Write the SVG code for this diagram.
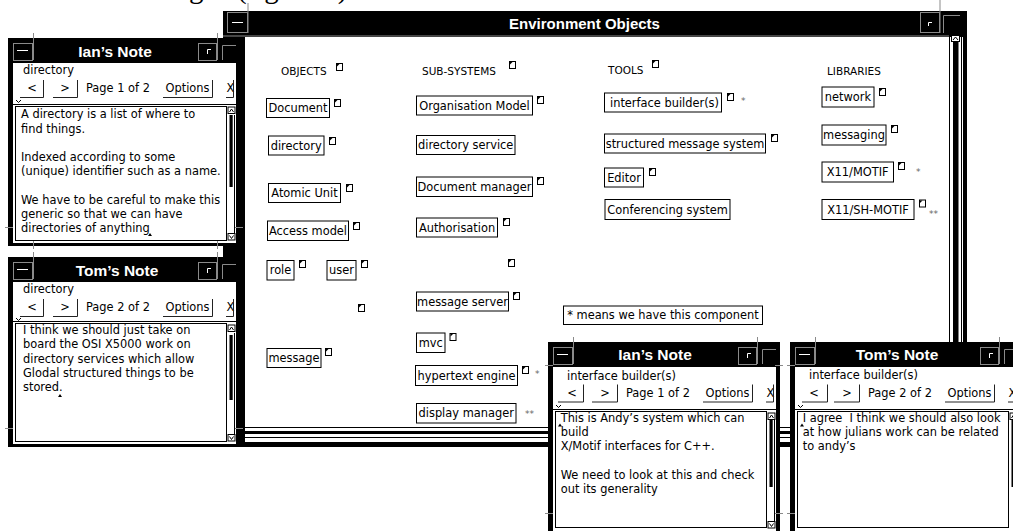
<svg xmlns="http://www.w3.org/2000/svg" xmlns:xlink="http://www.w3.org/1999/xlink" width="1013" height="531" viewBox="0 0 1013 531">
<style>
.fr{fill:#000}
.wh{fill:#fff}
.tt{font-family:"Liberation Sans",Arial,sans-serif;font-weight:bold;font-size:15.5px;fill:#fff;text-anchor:middle}
.t{font-family:"DejaVu Sans",sans-serif;font-size:11.4px;fill:#000}
.tc{font-family:"DejaVu Sans",sans-serif;font-size:11.4px;fill:#000;text-anchor:middle}
.h{font-family:"DejaVu Sans",sans-serif;font-size:10.5px;fill:#000}
.bx{fill:#fff;stroke:#000;stroke-width:1}
.g{stroke:#8a8a8a;fill:none;stroke-width:1}
.gw{stroke:#fff;fill:none;stroke-width:1}
.ln{stroke:#000;fill:none;stroke-width:1}
.bl{stroke:#222;fill:none;stroke-width:1}
.st{font-family:"DejaVu Sans",sans-serif;font-size:9px;fill:#666}
.cap{font-family:"Liberation Serif","Times New Roman",serif;font-size:29px;fill:#000}
</style>
<defs>
<symbol id="ic" overflow="visible">
<rect x="0.5" y="0.5" width="6" height="7" fill="#fff" stroke="#000"/>
<path d="M1,1 H3.5 L1,3.5 Z" fill="#000"/>
</symbol>
<symbol id="car" overflow="visible">
<path d="M0,3 L2,0 L4,3 Z" fill="#000"/>
</symbol>
</defs>
<rect width="1013" height="531" fill="#fff"/>
<text class="cap" y="-2.5"><tspan x="189">g</tspan><tspan x="237">(figure 3)</tspan></text>

<g id="env-window">
<rect class="fr" x="223" y="11" width="744" height="436"/>
<rect class="wh" x="245" y="37" width="704" height="389"/>
<line class="g" x1="223" y1="36" x2="949" y2="36"/>
<rect class="g" x="227.5" y="12.5" width="20" height="20"/>
<line class="g" x1="248" y1="3" x2="248" y2="33"/>
<line class="gw" x1="232" y1="22.5" x2="243" y2="22.5"/>
<text class="tt" x="584.5" y="28.5" style="font-size:15px">Environment Objects</text>
<rect class="g" x="920.5" y="12.5" width="19" height="20"/>
<line class="g" x1="940" y1="0" x2="940" y2="33"/>
<path class="gw" d="M928.5,26 V22.5 H932"/>
<path class="g" d="M943.5,33 V15.5 H960"/>
<rect class="wh" x="949" y="37" width="14" height="389"/>
<line class="ln" x1="949.5" y1="37" x2="949.5" y2="426"/>
<rect class="fr" x="953" y="42" width="5.5" height="384"/>
<line class="ln" x1="961.5" y1="37" x2="961.5" y2="426"/>
<rect class="bx" x="951.5" y="35.5" width="8" height="6"/>
<path class="ln" d="M953,40 L955.5,37 L958,40"/>
<rect class="wh" x="245" y="426" width="718" height="16"/>
<line class="ln" x1="245" y1="427.5" x2="963" y2="427.5"/>
<rect class="fr" x="245" y="431" width="718" height="3"/>
<line class="ln" x1="245" y1="437.5" x2="963" y2="437.5"/>
<rect class="fr" x="240" y="37" width="5" height="410"/>
<text class="h" x="281" y="75">OBJECTS</text>
<use href="#ic" x="336" y="63"/>
<text class="h" x="422" y="75">SUB-SYSTEMS</text>
<use href="#ic" x="509" y="61"/>
<text class="h" x="608" y="74">TOOLS</text>
<use href="#ic" x="652" y="60"/>
<text class="h" x="827" y="75">LIBRARIES</text>
</g>

<g id="connectors"></g>

<g id="obj-document"><rect class="bx" x="266.5" y="98.5" width="63" height="19"/><text class="tc" x="298" y="112">Document</text><use href="#ic" x="334" y="99"/></g>
<g id="obj-directory"><rect class="bx" x="268.5" y="136" width="55.5" height="19"/><text class="tc" x="296.2" y="149.5">directory</text><use href="#ic" x="329" y="137"/></g>
<g id="obj-atomic-unit"><rect class="bx" x="268.5" y="183.5" width="72" height="19"/><text class="tc" x="304.5" y="197">Atomic Unit</text><use href="#ic" x="346" y="184"/></g>
<g id="obj-access-model"><rect class="bx" x="267.5" y="221" width="81" height="19.5"/><text class="tc" x="308" y="234.5">Access model</text><use href="#ic" x="353" y="222"/></g>
<g id="obj-role"><rect class="bx" x="267" y="260.5" width="27" height="19.5"/><text class="tc" x="280.5" y="274">role</text><use href="#ic" x="299" y="260"/></g>
<g id="obj-user"><rect class="bx" x="327" y="260.5" width="29" height="19.5"/><text class="tc" x="341.5" y="274">user</text><use href="#ic" x="361" y="260"/></g>
<g id="obj-blank"><use href="#ic" x="358" y="304"/></g>
<g id="obj-message"><rect class="bx" x="267" y="348.5" width="54" height="19"/><text class="tc" x="294" y="362">message</text><use href="#ic" x="325" y="348"/></g>

<g id="sub-organisation-model"><rect class="bx" x="416.5" y="96" width="116" height="19"/><text class="tc" x="474.5" y="109.5">Organisation Model</text><use href="#ic" x="537" y="96"/></g>
<g id="sub-directory-service"><rect class="bx" x="416.5" y="135.5" width="98.5" height="19"/><text class="tc" x="465.7" y="149">directory service</text></g>
<g id="sub-document-manager"><rect class="bx" x="416.5" y="177" width="116" height="19.5"/><text class="tc" x="474.5" y="190.5">Document manager</text><use href="#ic" x="537" y="177"/></g>
<g id="sub-authorisation"><rect class="bx" x="416.5" y="218" width="81" height="19"/><text class="tc" x="457" y="231.5">Authorisation</text><use href="#ic" x="503" y="218"/></g>
<g id="sub-blank"><use href="#ic" x="508" y="259"/></g>
<g id="sub-message-server"><rect class="bx" x="416.5" y="292" width="92" height="19"/><text class="tc" x="462.5" y="305.5">message server</text><use href="#ic" x="513" y="292"/></g>
<g id="sub-mvc"><rect class="bx" x="416.5" y="333" width="28.5" height="19.5"/><text class="tc" x="430.7" y="346.5">mvc</text><use href="#ic" x="449.5" y="333"/></g>
<g id="sub-hypertext-engine"><rect class="bx" x="415.5" y="365.5" width="102" height="20"/><text class="tc" x="466.5" y="379.5">hypertext engine</text><use href="#ic" x="522" y="366"/><text class="st" x="535" y="377">*</text></g>
<g id="sub-display-manager"><rect class="bx" x="416.5" y="403.5" width="99.5" height="19.5"/><text class="tc" x="466.2" y="417">display manager</text><text class="st" x="525" y="417">**</text></g>

<g id="tool-interface-builder"><rect class="bx" x="604.5" y="93" width="117" height="19"/><text class="tc" x="664.5" y="106.5">interface builder(s)</text><use href="#ic" x="727" y="93"/><text class="st" x="741" y="104">*</text></g>
<g id="tool-structured-message-system"><rect class="bx" x="604.5" y="134" width="161" height="19"/><text class="tc" x="685" y="147.5">structured message system</text><use href="#ic" x="771" y="134"/></g>
<g id="tool-editor"><rect class="bx" x="604.5" y="168" width="39" height="19"/><text class="tc" x="624" y="181.5">Editor</text><use href="#ic" x="649" y="168"/></g>
<g id="tool-conferencing-system"><rect class="bx" x="605" y="199.5" width="125" height="20"/><text class="tc" x="667.5" y="213.5">Conferencing system</text></g>

<g id="lib-network"><rect class="bx" x="822" y="87" width="52" height="20"/><text class="tc" x="848" y="101">network</text><use href="#ic" x="879" y="88"/></g>
<g id="lib-messaging"><rect class="bx" x="822" y="125" width="64" height="20"/><text class="tc" x="854" y="139">messaging</text><use href="#ic" x="891" y="125"/></g>
<g id="lib-x11-motif"><rect class="bx" x="822" y="162" width="71.5" height="20"/><text class="tc" x="857.7" y="176">X11/MOTIF</text><use href="#ic" x="898" y="162"/><text class="st" x="916" y="175">*</text></g>
<g id="lib-x11-sh-motif"><rect class="bx" x="822" y="199.5" width="92" height="20"/><text class="tc" x="868" y="213.5">X11/SH-MOTIF</text><use href="#ic" x="919" y="199.5"/><text class="st" x="929" y="217">**</text></g>

<g id="legend"><rect class="bx" x="563.5" y="306" width="199" height="18.5"/><text class="tc" x="663" y="319.3">* means we have this component</text></g>

<!-- Ian's Note (top-left) -->
<g id="note-ian-directory" transform="translate(8,38)">
<rect class="fr" width="232" height="208"/>
<rect class="wh" x="5" y="25" width="223" height="180"/>
<rect class="g" x="5.5" y="5.5" width="19" height="17"/>
<line class="g" x1="25.5" y1="-5" x2="25.5" y2="22"/>
<line class="gw" x1="9" y1="12.5" x2="20" y2="12.5"/>
<rect class="g" x="190.5" y="5.5" width="18" height="17"/>
<line class="g" x1="209.5" y1="-5" x2="209.5" y2="22"/>
<path class="gw" d="M199.5,16 V11.5 H203"/>
<path class="g" d="M214.5,22 V7.5 H228"/>
<line class="g" x1="-3" y1="189.5" x2="5" y2="189.5"/>
<line class="g" x1="227" y1="189.5" x2="235" y2="189.5"/>
<line class="g" x1="25.5" y1="203" x2="25.5" y2="211"/>
<line class="g" x1="209.5" y1="203" x2="209.5" y2="211"/>
<text class="tt" x="107" y="18.7">Ian’s Note</text>
<text class="t" x="15" y="36.3">directory</text>
<text class="tc" x="24" y="54">&lt;</text>
<path class="bl" d="M12,59.5 H35.5 V42"/>
<text class="tc" x="57" y="54">&gt;</text>
<path class="bl" d="M45,59.5 H69.5 V42"/>
<text class="t" x="78" y="53.7">Page 1 of 2</text>
<text class="t" x="157.5" y="54">Options</text>
<path class="bl" d="M155,59.5 H204.5 V42"/>
<text class="t" x="218.5" y="54">X</text>
<path class="bl" d="M218,59.5 H225.5 V42"/>
<path class="ln" d="M8,62 L10.5,64.5 L13,62"/>
<line class="ln" x1="5" y1="66.5" x2="228" y2="66.5"/>
<rect class="ln" x="7.5" y="68.5" width="211" height="134"/>
<rect class="bx" x="220" y="69" width="7" height="6.5"/>
<path class="ln" d="M221.5,74 L223.5,71 L225.5,74"/>
<rect class="fr" x="221.5" y="77" width="3.2" height="72"/>
<line class="ln" x1="226.5" y1="77" x2="226.5" y2="195"/>
<rect class="bx" x="220" y="195.5" width="7" height="6.5"/>
<path class="ln" d="M221.5,197.5 L223.5,200.5 L225.5,197.5"/>
<text class="t" x="13"><tspan x="13" y="80.3">A directory is a list of where to</tspan><tspan x="13" y="94.5">find things.</tspan><tspan x="13" y="122.9">Indexed according to some</tspan><tspan x="13" y="137.1">(unique) identifier such as a name.</tspan><tspan x="13" y="165.5">We have to be careful to make this</tspan><tspan x="13" y="179.7">generic so that we can have</tspan><tspan x="13" y="193.9">directories of anything</tspan></text>
<use href="#car" x="140" y="195"/>
</g>

<!-- Tom's Note (left) -->
<g id="note-tom-directory" transform="translate(8,257)">
<rect class="fr" width="232" height="190"/>
<rect class="wh" x="5" y="25" width="223" height="162"/>
<rect class="g" x="5.5" y="5.5" width="19" height="17"/>
<line class="g" x1="25.5" y1="-5" x2="25.5" y2="22"/>
<line class="gw" x1="9" y1="12.5" x2="20" y2="12.5"/>
<rect class="g" x="190.5" y="5.5" width="18" height="17"/>
<line class="g" x1="209.5" y1="-5" x2="209.5" y2="22"/>
<path class="gw" d="M199.5,16 V11.5 H203"/>
<path class="g" d="M214.5,22 V7.5 H228"/>
<line class="g" x1="-3" y1="171.5" x2="5" y2="171.5"/>
<line class="g" x1="227" y1="171.5" x2="235" y2="171.5"/>
<text class="tt" x="109" y="18.7">Tom’s Note</text>
<text class="t" x="15" y="36.3">directory</text>
<text class="tc" x="24" y="54">&lt;</text>
<path class="bl" d="M12,59.5 H35.5 V42"/>
<text class="tc" x="57" y="54">&gt;</text>
<path class="bl" d="M45,59.5 H69.5 V42"/>
<text class="t" x="78" y="54">Page 2 of 2</text>
<text class="t" x="157.5" y="54">Options</text>
<path class="bl" d="M155,59.5 H204.5 V42"/>
<text class="t" x="218.5" y="54">X</text>
<path class="bl" d="M218,59.5 H225.5 V42"/>
<path class="ln" d="M8,61 L10.5,63.5 L13,61"/>
<line class="ln" x1="5" y1="64.5" x2="228" y2="64.5"/>
<rect class="ln" x="7.5" y="66.5" width="211" height="118"/>
<rect class="bx" x="220" y="68" width="7" height="6.5"/>
<path class="ln" d="M221.5,73 L223.5,70 L225.5,73"/>
<rect class="fr" x="221.5" y="78" width="3.2" height="65"/>
<line class="ln" x1="226.5" y1="76" x2="226.5" y2="177"/>
<rect class="bx" x="220" y="177.5" width="7" height="6.5"/>
<path class="ln" d="M221.5,179.5 L223.5,182.5 L225.5,179.5"/>
<text class="t"><tspan x="15" y="77">I think we should just take on</tspan><tspan x="15" y="91.3">board the OSI X5000 work on</tspan><tspan x="15" y="105.6">directory services which allow</tspan><tspan x="15" y="119.9">Glodal structured things to be</tspan><tspan x="15" y="134.2">stored.</tspan></text>
<use href="#car" x="50" y="137"/>
</g>

<!-- Ian's Note (bottom) -->
<g id="note-ian-interface-builder" transform="translate(548,342)">
<rect class="fr" width="232" height="192"/>
<rect class="wh" x="5" y="25" width="223" height="164"/>
<rect class="g" x="5.5" y="5.5" width="19" height="17"/>
<line class="g" x1="25.5" y1="-5" x2="25.5" y2="22"/>
<line class="gw" x1="9" y1="12.5" x2="20" y2="12.5"/>
<rect class="g" x="190.5" y="5.5" width="18" height="17"/>
<line class="g" x1="209.5" y1="-5" x2="209.5" y2="22"/>
<path class="gw" d="M199.5,16 V11.5 H203"/>
<path class="g" d="M214.5,22 V7.5 H228"/>
<line class="g" x1="-3" y1="23.5" x2="5" y2="23.5"/>
<line class="g" x1="227" y1="23.5" x2="235" y2="23.5"/>
<line class="g" x1="-3" y1="171.5" x2="5" y2="171.5"/>
<line class="g" x1="227" y1="171.5" x2="235" y2="171.5"/>
<text class="tt" x="107" y="18.3">Ian’s Note</text>
<text class="t" x="19" y="37.8">interface builder(s)</text>
<text class="tc" x="24" y="54.7">&lt;</text>
<path class="bl" d="M10,60 H35.5 V42.5"/>
<text class="tc" x="57" y="54.7">&gt;</text>
<path class="bl" d="M44,60 H69.5 V42.5"/>
<text class="t" x="78" y="54.7">Page 1 of 2</text>
<text class="t" x="157.5" y="54.7">Options</text>
<path class="bl" d="M155,60 H204.5 V42.5"/>
<text class="t" x="218.5" y="54.7">X</text>
<path class="bl" d="M218,60 H225.5 V42.5"/>
<path class="ln" d="M8,63 L10.5,65.5 L13,63"/>
<line class="ln" x1="5" y1="67.5" x2="228" y2="67.5"/>
<rect class="ln" x="7.5" y="69.5" width="211" height="116"/>
<rect class="bx" x="220" y="71" width="7" height="6.5"/>
<path class="ln" d="M221.5,76 L223.5,73 L225.5,76"/>
<rect class="fr" x="221.5" y="78" width="3.2" height="67"/>
<line class="ln" x1="226.5" y1="78" x2="226.5" y2="179"/>
<rect class="bx" x="220" y="179.5" width="7" height="6.5"/>
<path class="ln" d="M221.5,181.5 L223.5,184.5 L225.5,181.5"/>
<text class="t"><tspan x="12.7" y="79.7">This is Andy’s system which can</tspan><tspan x="12.7" y="94">build</tspan><tspan x="12.7" y="108.3">X/Motif interfaces for C++.</tspan><tspan x="12.7" y="136.9">We need to look at this and check</tspan><tspan x="12.7" y="151.2">out its generality</tspan></text>
<use href="#car" x="10" y="81.5"/>
</g>

<!-- Tom's Note (right) -->
<g id="note-tom-interface-builder" transform="translate(790,342)">
<rect class="fr" width="232" height="192"/>
<rect class="wh" x="5" y="25" width="223" height="164"/>
<rect class="g" x="5.5" y="5.5" width="19" height="17"/>
<line class="g" x1="25.5" y1="-5" x2="25.5" y2="22"/>
<line class="gw" x1="9" y1="12.5" x2="20" y2="12.5"/>
<rect class="g" x="190.5" y="5.5" width="18" height="17"/>
<line class="g" x1="209.5" y1="-5" x2="209.5" y2="22"/>
<path class="gw" d="M199.5,16 V11.5 H203"/>
<path class="g" d="M214.5,22 V7.5 H228"/>
<line class="g" x1="-3" y1="23.5" x2="5" y2="23.5"/>
<line class="g" x1="-3" y1="171.5" x2="5" y2="171.5"/>
<text class="tt" x="107" y="18.3">Tom’s Note</text>
<text class="t" x="19" y="37">interface builder(s)</text>
<text class="tc" x="24" y="54.7">&lt;</text>
<path class="bl" d="M12,60 H37.5 V42.5"/>
<text class="tc" x="57" y="54.7">&gt;</text>
<path class="bl" d="M44,60 H69.5 V42.5"/>
<text class="t" x="78" y="54.7">Page 2 of 2</text>
<text class="t" x="157.5" y="54.7">Options</text>
<path class="bl" d="M155,60 H204.5 V42.5"/>
<text class="t" x="218.5" y="54.7">X</text>
<path class="bl" d="M218,60 H225.5 V42.5"/>
<path class="ln" d="M8,63 L10.5,65.5 L13,63"/>
<line class="ln" x1="5" y1="67.5" x2="228" y2="67.5"/>
<rect class="ln" x="7.5" y="69.5" width="211" height="116"/>
<rect class="bx" x="220" y="71" width="7" height="6.5"/>
<path class="ln" d="M221.5,76 L223.5,73 L225.5,76"/>
<rect class="fr" x="221.5" y="78" width="3.2" height="67"/>
<line class="ln" x1="226.5" y1="78" x2="226.5" y2="179"/>
<text class="t" xml:space="preserve"><tspan x="12.7" y="79.7">I agree  I think we should also look</tspan><tspan x="12.7" y="94">at how julians work can be related</tspan><tspan x="12.7" y="108.3">to andy’s</tspan></text>
<use href="#car" x="10" y="81.5"/>
</g>
</svg>
